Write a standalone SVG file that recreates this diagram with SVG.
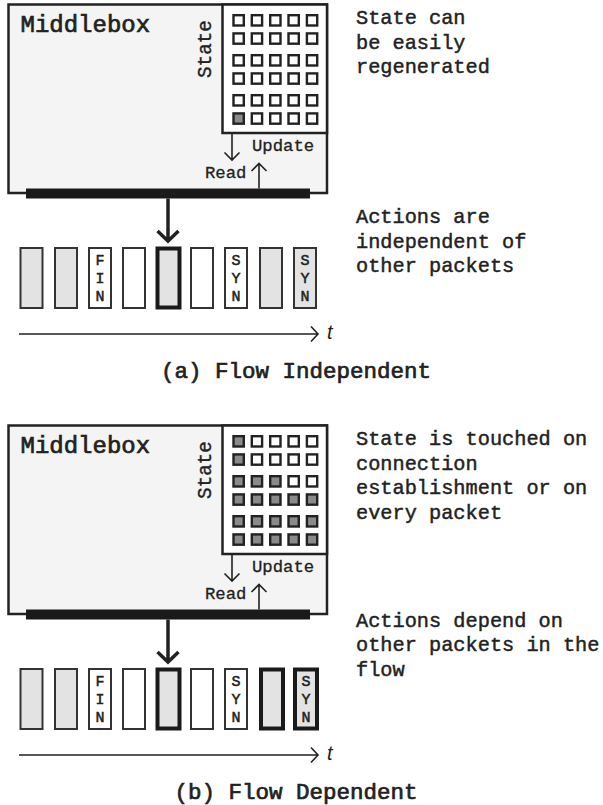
<svg xmlns="http://www.w3.org/2000/svg" width="603" height="805" viewBox="0 0 603 805">
<style>
  .box { fill: #f3f4f3; stroke: #222; stroke-width: 2.5; }
  .state { fill: #fff; stroke: #222; stroke-width: 2.5; }
  .bar { fill: #1a1a1a; }
  .c { fill: #fff; stroke: #222; stroke-width: 2.4; }
  .c.f { fill: #8a8a8a; }
  .p { fill: #fff; stroke: #333; stroke-width: 2; }
  .p.g { fill: #e3e3e3; }
  .p.t { stroke: #1a1a1a; stroke-width: 4; }
  .mono { font-family: "Liberation Mono", "Courier New", monospace; fill: #222; }
  .title { font-size: 24px; stroke: #222; stroke-width: 0.7; }
  .cap { font-size: 22.5px; stroke: #222; stroke-width: 0.7; }
  .note { font-size: 20.3px; stroke: #222; stroke-width: 0.45; }
  .lab { font-size: 17.3px; stroke: #222; stroke-width: 0.3; }
  .vlab { font-size: 19.3px; stroke: #222; stroke-width: 0.4; }
  .pl { font-size: 15px; stroke: #222; stroke-width: 0.5; text-anchor: middle; }
  .thin { fill: none; stroke: #222; stroke-width: 1.6; }
  .thick { fill: none; stroke: #222; stroke-width: 3.5; }
  .t { font-family: "Liberation Sans", Arial, sans-serif; font-style: italic; font-size: 20px; fill: #222; }
</style>

<!-- Panel (a) -->
<g id="panel-a">
  <g id="middlebox-a">
    <rect class="box" x="8.5" y="4.5" width="318.5" height="188.5"/>
    <text class="mono title" x="20.5" y="31.5">Middlebox</text>
    <rect class="bar" x="26" y="188.5" width="284" height="10"/>
  </g>
  <g id="state-a">
    <rect class="state" x="222.5" y="4.5" width="104.5" height="128.5"/>
    <text class="mono vlab" text-anchor="middle" transform="translate(211,49) rotate(-90)">State</text>
    <rect class="c" x="233.5" y="15.2" width="10.3" height="10.3"/><rect class="c" x="251.8" y="15.2" width="10.3" height="10.3"/><rect class="c" x="270.2" y="15.2" width="10.3" height="10.3"/><rect class="c" x="288.5" y="15.2" width="10.3" height="10.3"/><rect class="c" x="306.9" y="15.2" width="10.3" height="10.3"/>
    <rect class="c" x="233.5" y="33.4" width="10.3" height="10.3"/><rect class="c" x="251.8" y="33.4" width="10.3" height="10.3"/><rect class="c" x="270.2" y="33.4" width="10.3" height="10.3"/><rect class="c" x="288.5" y="33.4" width="10.3" height="10.3"/><rect class="c" x="306.9" y="33.4" width="10.3" height="10.3"/>
    <rect class="c" x="233.5" y="55.2" width="10.3" height="10.3"/><rect class="c" x="251.8" y="55.2" width="10.3" height="10.3"/><rect class="c" x="270.2" y="55.2" width="10.3" height="10.3"/><rect class="c" x="288.5" y="55.2" width="10.3" height="10.3"/><rect class="c" x="306.9" y="55.2" width="10.3" height="10.3"/>
    <rect class="c" x="233.5" y="73.4" width="10.3" height="10.3"/><rect class="c" x="251.8" y="73.4" width="10.3" height="10.3"/><rect class="c" x="270.2" y="73.4" width="10.3" height="10.3"/><rect class="c" x="288.5" y="73.4" width="10.3" height="10.3"/><rect class="c" x="306.9" y="73.4" width="10.3" height="10.3"/>
    <rect class="c" x="233.5" y="95.2" width="10.3" height="10.3"/><rect class="c" x="251.8" y="95.2" width="10.3" height="10.3"/><rect class="c" x="270.2" y="95.2" width="10.3" height="10.3"/><rect class="c" x="288.5" y="95.2" width="10.3" height="10.3"/><rect class="c" x="306.9" y="95.2" width="10.3" height="10.3"/>
    <rect class="c f" x="233.5" y="113.4" width="10.3" height="10.3"/><rect class="c" x="251.8" y="113.4" width="10.3" height="10.3"/><rect class="c" x="270.2" y="113.4" width="10.3" height="10.3"/><rect class="c" x="288.5" y="113.4" width="10.3" height="10.3"/><rect class="c" x="306.9" y="113.4" width="10.3" height="10.3"/>
  </g>
  <g id="labels-a">
    <text class="mono lab" x="252" y="151">Update</text>
    <text class="mono lab" x="205" y="178">Read</text>
  </g>
  <g id="packets-a">
    <rect class="p g" x="20.5" y="248" width="22" height="60"/>
    <rect class="p g" x="55" y="248" width="22" height="60"/>
    <rect class="p" x="89" y="248" width="22" height="60"/>
    <text class="mono pl" x="100" y="265">F</text><text class="mono pl" x="100" y="283">I</text><text class="mono pl" x="100" y="301">N</text>
    <rect class="p" x="123" y="248" width="22" height="60"/>
    <rect class="p g t" x="157.5" y="248.5" width="22" height="59"/>
    <rect class="p" x="191" y="248" width="22" height="60"/>
    <rect class="p" x="225" y="248" width="22" height="60"/>
    <text class="mono pl" x="236" y="265">S</text><text class="mono pl" x="236" y="283">Y</text><text class="mono pl" x="236" y="301">N</text>
    <rect class="p g" x="260" y="248" width="22" height="60"/>
    <rect class="p g" x="294" y="248" width="22" height="60"/>
    <text class="mono pl" x="305" y="265">S</text><text class="mono pl" x="305" y="283">Y</text><text class="mono pl" x="305" y="301">N</text>
  </g>
  <g id="notes-a">
    <text class="mono note" x="356" y="24">State can</text>
    <text class="mono note" x="356" y="48.5">be easily</text>
    <text class="mono note" x="356" y="73">regenerated</text>
    <text class="mono note" x="356" y="223">Actions are</text>
    <text class="mono note" x="356" y="247.5">independent of</text>
    <text class="mono note" x="356" y="272">other packets</text>
  </g>
  <text class="t" x="327" y="339">t</text>
  <text class="mono cap" x="296" y="378" text-anchor="middle">(a) Flow Independent</text>
</g>

<!-- Panel (b) -->
<g id="panel-b">
  <g id="middlebox-b">
    <rect class="box" x="8.5" y="425.5" width="318.5" height="188.5"/>
    <text class="mono title" x="20.5" y="452.5">Middlebox</text>
    <rect class="bar" x="26" y="609.5" width="284" height="10"/>
  </g>
  <g id="state-b">
    <rect class="state" x="222.5" y="425.5" width="104.5" height="128.5"/>
    <text class="mono vlab" text-anchor="middle" transform="translate(211,470) rotate(-90)">State</text>
    <rect class="c f" x="233.5" y="436.2" width="10.3" height="10.3"/><rect class="c" x="251.8" y="436.2" width="10.3" height="10.3"/><rect class="c" x="270.2" y="436.2" width="10.3" height="10.3"/><rect class="c" x="288.5" y="436.2" width="10.3" height="10.3"/><rect class="c" x="306.9" y="436.2" width="10.3" height="10.3"/>
    <rect class="c f" x="233.5" y="454.4" width="10.3" height="10.3"/><rect class="c" x="251.8" y="454.4" width="10.3" height="10.3"/><rect class="c" x="270.2" y="454.4" width="10.3" height="10.3"/><rect class="c" x="288.5" y="454.4" width="10.3" height="10.3"/><rect class="c" x="306.9" y="454.4" width="10.3" height="10.3"/>
    <rect class="c f" x="233.5" y="476.2" width="10.3" height="10.3"/><rect class="c f" x="251.8" y="476.2" width="10.3" height="10.3"/><rect class="c f" x="270.2" y="476.2" width="10.3" height="10.3"/><rect class="c" x="288.5" y="476.2" width="10.3" height="10.3"/><rect class="c" x="306.9" y="476.2" width="10.3" height="10.3"/>
    <rect class="c f" x="233.5" y="494.4" width="10.3" height="10.3"/><rect class="c f" x="251.8" y="494.4" width="10.3" height="10.3"/><rect class="c f" x="270.2" y="494.4" width="10.3" height="10.3"/><rect class="c f" x="288.5" y="494.4" width="10.3" height="10.3"/><rect class="c f" x="306.9" y="494.4" width="10.3" height="10.3"/>
    <rect class="c f" x="233.5" y="516.2" width="10.3" height="10.3"/><rect class="c f" x="251.8" y="516.2" width="10.3" height="10.3"/><rect class="c f" x="270.2" y="516.2" width="10.3" height="10.3"/><rect class="c f" x="288.5" y="516.2" width="10.3" height="10.3"/><rect class="c f" x="306.9" y="516.2" width="10.3" height="10.3"/>
    <rect class="c f" x="233.5" y="534.4" width="10.3" height="10.3"/><rect class="c f" x="251.8" y="534.4" width="10.3" height="10.3"/><rect class="c f" x="270.2" y="534.4" width="10.3" height="10.3"/><rect class="c f" x="288.5" y="534.4" width="10.3" height="10.3"/><rect class="c f" x="306.9" y="534.4" width="10.3" height="10.3"/>
  </g>
  <g id="labels-b">
    <text class="mono lab" x="252" y="572">Update</text>
    <text class="mono lab" x="205" y="599">Read</text>
  </g>
  <g id="packets-b">
    <rect class="p g" x="20.5" y="669" width="22" height="60"/>
    <rect class="p g" x="55" y="669" width="22" height="60"/>
    <rect class="p" x="89" y="669" width="22" height="60"/>
    <text class="mono pl" x="100" y="686">F</text><text class="mono pl" x="100" y="704">I</text><text class="mono pl" x="100" y="722">N</text>
    <rect class="p" x="123" y="669" width="22" height="60"/>
    <rect class="p g t" x="157.5" y="669.5" width="22" height="59"/>
    <rect class="p" x="191" y="669" width="22" height="60"/>
    <rect class="p" x="225" y="669" width="22" height="60"/>
    <text class="mono pl" x="236" y="686">S</text><text class="mono pl" x="236" y="704">Y</text><text class="mono pl" x="236" y="722">N</text>
    <rect class="p g t" x="261" y="669.5" width="22" height="59"/>
    <rect class="p g t" x="295" y="669.5" width="22" height="59"/>
    <text class="mono pl" x="306" y="686">S</text><text class="mono pl" x="306" y="704">Y</text><text class="mono pl" x="306" y="722">N</text>
  </g>
  <g id="notes-b">
    <text class="mono note" x="356" y="445">State is touched on</text>
    <text class="mono note" x="356" y="469.5">connection</text>
    <text class="mono note" x="356" y="494">establishment or on</text>
    <text class="mono note" x="356" y="518.5">every packet</text>
    <text class="mono note" x="356" y="626.5">Actions depend on</text>
    <text class="mono note" x="356" y="651">other packets in the</text>
    <text class="mono note" x="356" y="675.5">flow</text>
  </g>
  <text class="t" x="327" y="760">t</text>
  <text class="mono cap" x="296" y="799" text-anchor="middle">(b) Flow Dependent</text>
</g>

<g id="connectors">
  <!-- panel a -->
  <path class="thin" d="M232,133 V160 M224.5,152.5 L232,160 L239.5,152.5"/>
  <path class="thin" d="M259,188.5 V163.5 M251.5,171 L259,163.5 L266.5,171"/>
  <path class="thick" d="M168,198.5 V240 M157.5,231 L168,241 L178.5,231"/>
  <path class="thin" d="M19,334 H318 M311,326.5 L318,334 L311,341.5"/>
  <!-- panel b -->
  <path class="thin" d="M232,554 V581 M224.5,573.5 L232,581 L239.5,573.5"/>
  <path class="thin" d="M259,609.5 V584.5 M251.5,592 L259,584.5 L266.5,592"/>
  <path class="thick" d="M168,619.5 V661 M157.5,652 L168,662 L178.5,652"/>
  <path class="thin" d="M19,755 H318 M311,747.5 L318,755 L311,762.5"/>
</g>
</svg>
